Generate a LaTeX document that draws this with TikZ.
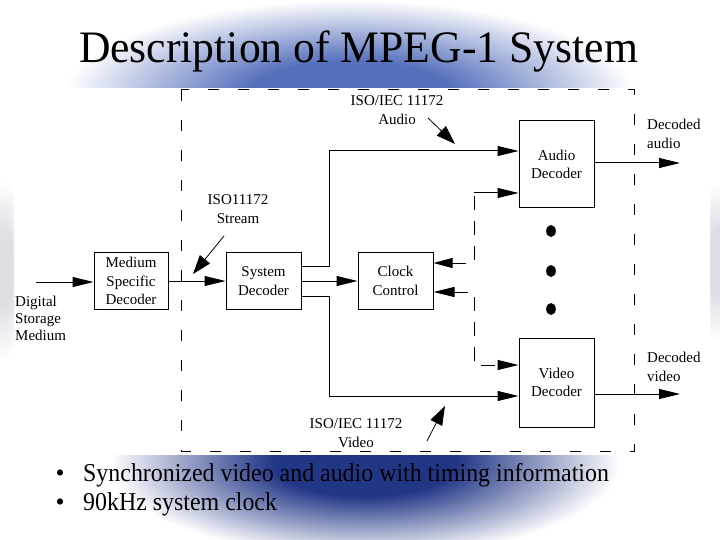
\documentclass[tikz,border=0pt]{standalone}
\usepackage{fontspec}
\usepackage{graphicx}
\setmainfont{Liberation Serif}
\usetikzlibrary{arrows.meta}
\definecolor{gtop}{RGB}{86,112,188}
\definecolor{gbot}{RGB}{34,54,134}
\definecolor{gside}{RGB}{222,223,230}
\pgfdeclareradialshading{topglow}{\pgfpoint{0bp}{0bp}}{color(0bp)=(gtop); color(9bp)=(gtop); color(25bp)=(white); color(50bp)=(white)}
\pgfdeclareradialshading{botglow}{\pgfpoint{0bp}{0bp}}{color(0bp)=(gbot); color(9bp)=(gbot); color(25bp)=(white); color(50bp)=(white)}
\pgfdeclareradialshading{sideglow}{\pgfpoint{0bp}{0bp}}{color(0bp)=(gside); color(10bp)=(gside); color(25bp)=(white); color(50bp)=(white)}
\newcommand\diagfont{\fontsize{15}{18.5}\selectfont}
\newcommand\lblfont{\fontsize{15}{19}\selectfont}
\newcommand\bulfont{\fontsize{25.7}{30}\selectfont}
\begin{document}
\begin{tikzpicture}[x=1pt,y=-1pt,
  box/.style={draw, line width=1pt, inner sep=0pt, align=center, font=\diagfont},
  lbl/.style={inner sep=0pt, align=center, font=\lblfont},
  conn/.style={line width=1pt},
  arr/.style={conn, -{Triangle[length=21pt,width=10pt]}},
  both/.style={conn, {Triangle[length=21pt,width=10pt]}-{Triangle[length=21pt,width=10pt]}},
  ptr/.style={line width=0.8pt, -{Triangle[length=19pt,width=13pt]}},
  innerdash/.style={dash pattern=on 14pt off 11pt},
  framedash/.style={line width=1pt, dash pattern=on 11pt off 19pt}]
\useasboundingbox (0,0) rectangle (720,540);
\fill[white] (0,0) rectangle (720,540);
% background glows
\shade[shading=topglow] (350,95) ellipse [x radius=285pt, y radius=95pt];
\shade[shading=botglow] (365,462) ellipse [x radius=255pt, y radius=95pt];
\shade[shading=sideglow] (3,270) ellipse [x radius=26pt, y radius=90pt];
\shade[shading=sideglow] (717,262) ellipse [x radius=24pt, y radius=80pt];
\fill[white] (14,88) rectangle (710,455);
% title and bullets
\node[anchor=base, inner sep=0pt] (title) at (358.5,63) {\fontsize{45}{45}\selectfont\scalebox{0.97}[1]{Description of MPEG-1 System}};
\node[anchor=base, inner sep=0pt] (bd1) at (60,481) {\bulfont •};
\node[anchor=base west, inner sep=0pt] (bt1) at (83,481) {\bulfont\scalebox{0.93}[1]{Synchronized video and audio with timing information}};
\node[anchor=base, inner sep=0pt] (bd2) at (60,510) {\bulfont •};
\node[anchor=base west, inner sep=0pt] (bt2) at (83,510) {\bulfont\scalebox{0.93}[1]{90kHz system clock}};
% frame
\draw[framedash] (181,90) rectangle (634,451);
% boxes
\node[box, minimum width=74pt, minimum height=57pt] (med) at (131,281) {Medium\\Specific\\Decoder};
\node[box, minimum width=75pt, minimum height=57pt] (sys) at (263.5,281) {System\\Decoder};
\node[box, minimum width=75pt, minimum height=57pt] (clk) at (395.5,281) {Clock\\Control};
\node[box, minimum width=75pt, minimum height=87pt] (aud) at (556.5,164.5) {Audio\\Decoder};
\node[box, minimum width=75pt, minimum height=89pt] (vid) at (556.5,382.5) {Video\\Decoder};
% labels
\node[lbl] (lA) at (397,110) {ISO/IEC 11172\\Audio};
\node[lbl] (lS) at (238,209.5) {ISO11172\\Stream};
\node[lbl] (lV) at (356,433.5) {ISO/IEC 11172\\Video};
\node[lbl, align=left, anchor=west] (lda) at (647,133.5) {Decoded\\audio};
\node[lbl, align=left, anchor=west] (ldv) at (647,367) {Decoded\\video};
\node[lbl, align=left, anchor=west, font=\fontsize{15}{17}\selectfont] (ldsm) at (15,318.5) {Digital\\Storage\\Medium};
% dots
\fill (551,231) ellipse [x radius=4.8pt, y radius=6pt];
\fill (551,271) ellipse [x radius=4.8pt, y radius=6pt];
\fill (551,309) ellipse [x radius=4.8pt, y radius=6pt];
% coordinates
\coordinate (in) at (36,282);
\coordinate (aout) at (680,163);
\coordinate (vout) at (680,394);
\coordinate (ca) at (474,193);
\coordinate (cv) at (474,365);
\coordinate (pa1) at (428,118);
\coordinate (pa2) at (455,144);
\coordinate (ps1) at (224,236);
\coordinate (ps2) at (193,274);
\coordinate (pv1) at (427,441);
\coordinate (pv2) at (445,406);
% connectors
\draw[arr] (in) -- (in -| med.west);
\draw[arr] (med.east) -- (sys.west);
\draw[arr] (sys.east) -- (clk.west);
\draw[arr] ([yshift=15pt]sys.east) -- ++(28,0) |- (aud.west |- 0,151);
\draw[arr] ([yshift=-15pt]sys.east) -- ++(28,0) |- (vid.west |- 0,396);
\draw[arr] (aud.east |- aout) -- (aout);
\draw[arr] (vid.east |- vout) -- (vout);
\draw[arr] (ca) -- (aud.west |- ca);
\draw[conn, innerdash, {Triangle[length=19pt,width=10pt]}-] (clk.east |- 0,263) -| (ca);
\draw[both, innerdash] (clk.east |- 0,292) -| (cv) -- (vid.west |- cv);
% pointers
\draw[ptr] (pa1) -- (pa2);
\draw[ptr] (ps1) -- (ps2);
\draw[ptr] (pv1) -- (pv2);
\end{tikzpicture}
\end{document}
